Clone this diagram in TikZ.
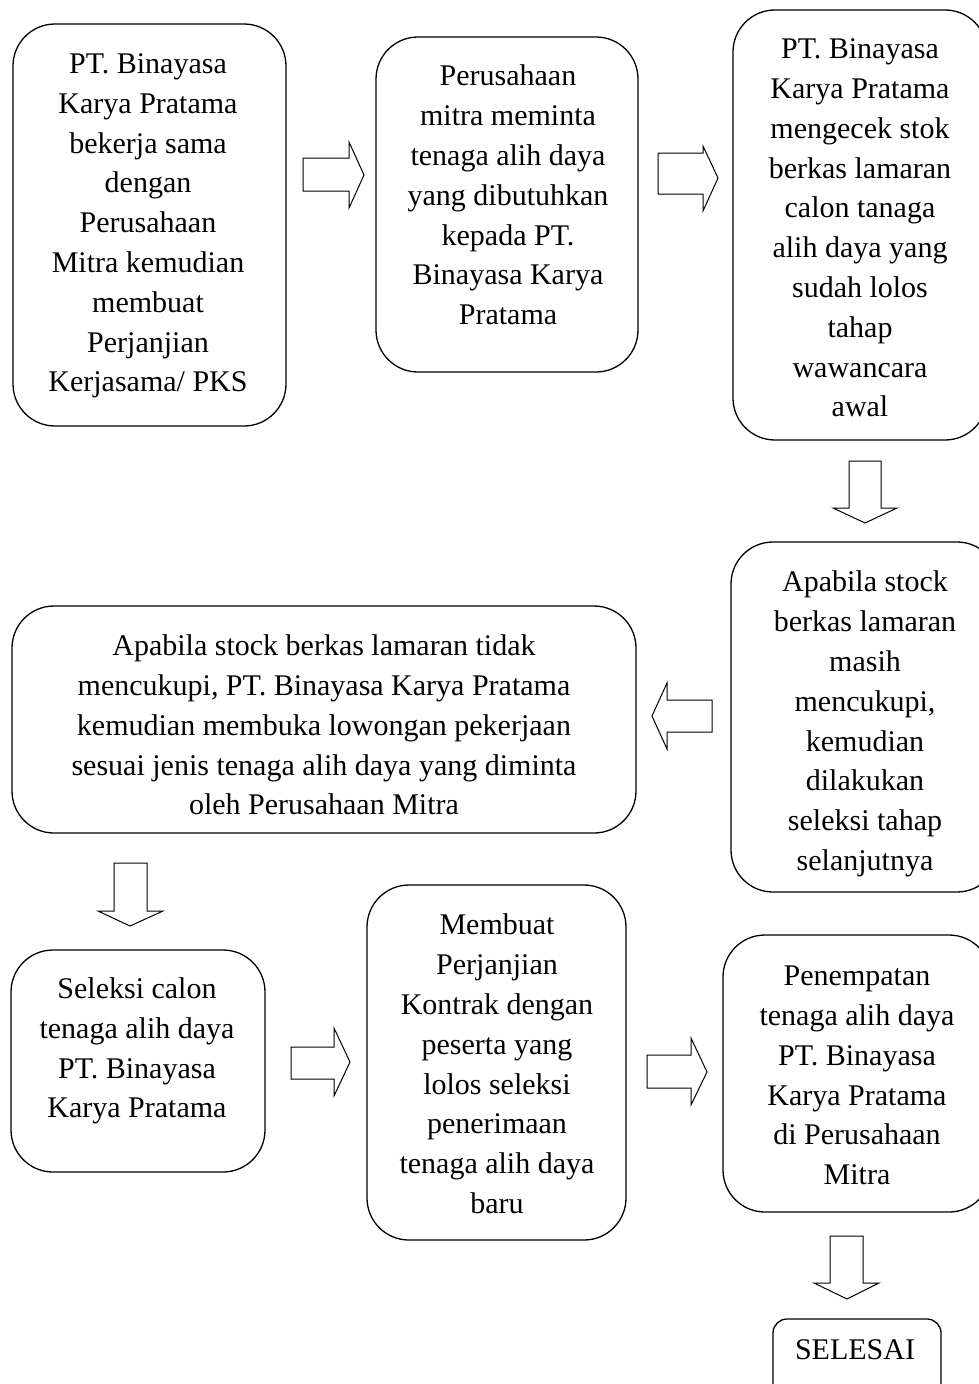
\documentclass[tikz,border=0pt]{standalone}
\usepackage{fontspec}
\setmainfont{Liberation Serif}
\begin{document}
\begin{tikzpicture}[x=1pt,y=-1pt,
  box/.style={draw, line width=1.3pt, rounded corners=42pt, inner sep=0pt},
  smallbox/.style={draw, line width=1.3pt, rounded corners=14pt, inner sep=0pt},
  txt/.style={align=center, inner sep=0pt, font=\fontsize{30}{39.8}\selectfont},
  blockarrow/.style={draw, line width=1pt, line join=miter, fill=white}]
\useasboundingbox (0,0) rectangle (979,1384);
% boxes
\node[box, minimum width=273pt, minimum height=402pt] (b1) at (149.5,225) {};
\node[box, minimum width=262pt, minimum height=335pt] (b2) at (507,204.5) {};
\node[box, minimum width=254pt, minimum height=430pt] (b3) at (860,225) {};
\node[box, minimum width=268pt, minimum height=350pt] (b4) at (865,717) {};
\node[box, minimum width=624pt, minimum height=227pt] (b5) at (324,719.5) {};
\node[box, minimum width=254pt, minimum height=222pt] (b6) at (138,1061) {};
\node[box, minimum width=259pt, minimum height=355pt] (b7) at (496.5,1062.5) {};
\node[box, minimum width=268pt, minimum height=277pt] (b8) at (857,1073.5) {};
\node[smallbox, minimum width=168pt, minimum height=81pt] (b9) at (857,1359.5) {};
% texts
\node[txt] (t1) at (148,226) {PT. Binayasa\\Karya Pratama\\bekerja sama\\dengan\\Perusahaan\\Mitra kemudian\\membuat\\Perjanjian\\Kerjasama/ PKS};
\node[txt] (t2) at (508,195) {Perusahaan\\mitra meminta\\tenaga alih daya\\yang dibutuhkan\\kepada PT.\\Binayasa Karya\\Pratama};
\node[txt] (t3) at (860,228) {PT. Binayasa\\Karya Pratama\\mengecek stok\\berkas lamaran\\calon tanaga\\alih daya yang\\sudah lolos\\tahap\\wawancara\\awal};
\node[txt] (t4) at (865,724) {Apabila stock\\berkas lamaran\\masih\\mencukupi,\\kemudian\\dilakukan\\seleksi tahap\\selanjutnya};
\node[txt] (t5) at (324,725) {Apabila stock berkas lamaran tidak\\mencukupi, PT. Binayasa Karya Pratama\\kemudian membuka lowongan pekerjaan\\sesuai jenis tenaga alih daya yang diminta\\oleh Perusahaan Mitra};
\node[txt] (t6) at (137,1051) {Seleksi calon\\tenaga alih daya\\PT. Binayasa\\Karya Pratama};
\node[txt] (t7) at (497,1064) {Membuat\\Perjanjian\\Kontrak dengan\\peserta yang\\lolos seleksi\\penerimaan\\tenaga alih daya\\baru};
\node[txt] (t8) at (857,1075.5) {Penempatan\\tenaga alih daya\\PT. Binayasa\\Karya Pratama\\di Perusahaan\\Mitra};
\node[txt] (t9) at (855,1350) {SELESAI};
% block arrows (right)
\draw[blockarrow] (303,158) -- (349,158) -- (349,142) -- (364,175) -- (349,208) -- (349,191) -- (303,191) -- cycle;
\draw[blockarrow] (658,153) -- (703,153) -- (703,146) -- (718,178) -- (703,211) -- (703,194) -- (658,194) -- cycle;
\draw[blockarrow] (291,1047) -- (334,1047) -- (334,1028) -- (350,1062) -- (334,1096) -- (334,1079) -- (291,1079) -- cycle;
\draw[blockarrow] (647,1055) -- (691,1055) -- (691,1038) -- (707,1072) -- (691,1105) -- (691,1088) -- (647,1088) -- cycle;
% left
\draw[blockarrow] (712,700) -- (667,700) -- (667,683) -- (652,716) -- (667,749) -- (667,732) -- (712,732) -- cycle;
% down
\draw[blockarrow] (849,461) -- (849,508) -- (833,508) -- (865,523) -- (897,508) -- (881,508) -- (881,461) -- cycle;
\draw[blockarrow] (114,863) -- (114,911) -- (98,911) -- (130,926) -- (163,911) -- (147,911) -- (147,863) -- cycle;
\draw[blockarrow] (830,1236) -- (830,1283) -- (814,1283) -- (847,1299) -- (879,1283) -- (863,1283) -- (863,1236) -- cycle;
\end{tikzpicture}
\end{document}
